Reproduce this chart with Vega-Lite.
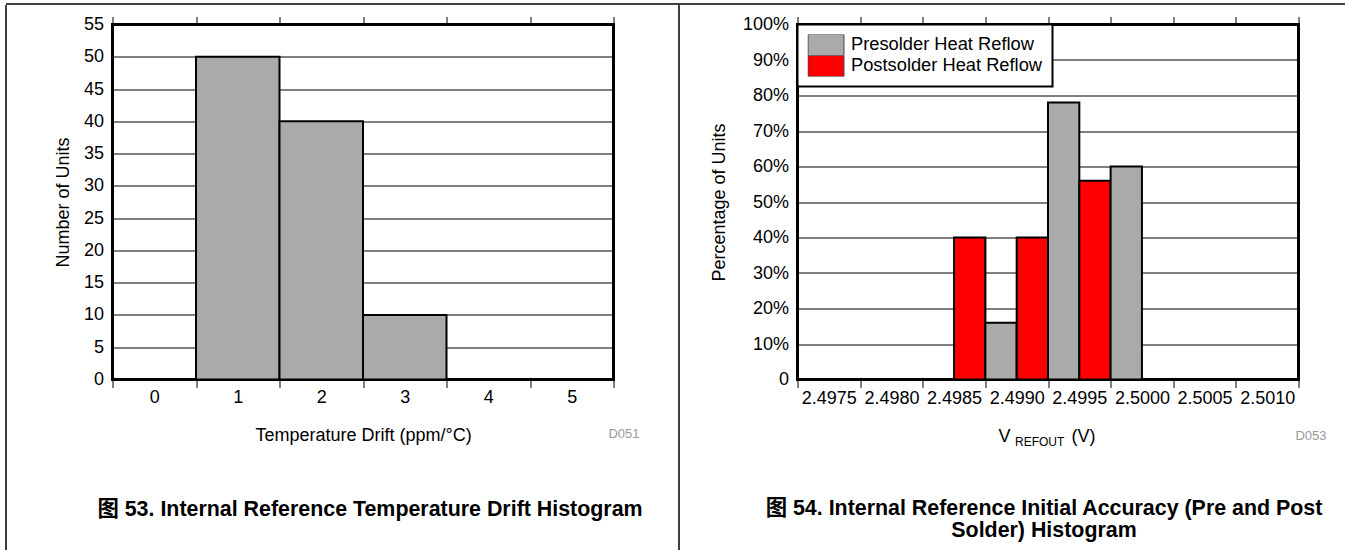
{
  "$schema": "https://vega.github.io/schema/vega-lite/v6.json",
  "padding": {"left": 4.5, "top": 2.5, "right": 0, "bottom": 0},
  "background": "white",
  "config": {
    "font": "Liberation Sans",
    "view": {"stroke": "#000", "strokeWidth": 3},
    "axis": {
      "labelFont": "Liberation Sans", "labelFontSize": 18, "labelColor": "#000",
      "titleFont": "Liberation Sans", "titleFontSize": 18, "titleFontWeight": "normal", "titleColor": "#000",
      "domain": false, "tickColor": "#000", "tickWidth": 1, "gridColor": "#000", "gridWidth": 1, "gridOpacity": 1,
      "labelOverlap": false, "labelFlush": false
    },
    "legend": {"strokeWidth": 2},
    "title": {"font": "Liberation Sans, Noto Sans CJK SC", "fontSize": 21.4, "fontWeight": "bold", "color": "#000"}
  },
  "datasets": {
    "drift": [
      {"drift": 1, "units": 50},
      {"drift": 2, "units": 40},
      {"drift": 3, "units": 10}
    ],
    "accuracy": [
      {"vrefout": "2.4985", "solder": "Postsolder Heat Reflow", "pct": 40},
      {"vrefout": "2.4990", "solder": "Presolder Heat Reflow", "pct": 16},
      {"vrefout": "2.4990", "solder": "Postsolder Heat Reflow", "pct": 40},
      {"vrefout": "2.4995", "solder": "Presolder Heat Reflow", "pct": 78},
      {"vrefout": "2.4995", "solder": "Postsolder Heat Reflow", "pct": 56},
      {"vrefout": "2.5000", "solder": "Presolder Heat Reflow", "pct": 60}
    ]
  },
  "spacing": 0,
  "bounds": "flush",
  "resolve": {"legend": {"color": "independent"}},
  "vconcat": [
    {"width": 1339, "height": 0.001, "view": {"stroke": "#000", "strokeWidth": 1}, "data": {"values": []}, "mark": "rule", "encoding": {}},
    {
      "columns": 7,
      "spacing": 0,
      "bounds": "flush",
      "align": "each",
      "resolve": {"legend": {"color": "independent"}},
      "concat": [
        {"width": 0.001, "height": 20, "view": {"stroke": "#000", "strokeWidth": 1}, "data": {"values": []}, "mark": "rule", "encoding": {}},
        {"width": 106, "height": 20, "view": {"stroke": null}, "data": {"values": []}, "mark": "rule", "encoding": {}},
        {"width": 501, "height": 20, "view": {"stroke": null}, "data": {"values": []}, "mark": "rule", "encoding": {}},
        {"width": 65, "height": 20, "view": {"stroke": null}, "data": {"values": []}, "mark": "rule", "encoding": {}},
        {"width": 0.001, "height": 20, "view": {"stroke": "#000", "strokeWidth": 1}, "data": {"values": []}, "mark": "rule", "encoding": {}},
        {"width": 118, "height": 20, "view": {"stroke": null}, "data": {"values": []}, "mark": "rule", "encoding": {}},
        {"width": 501, "height": 20, "view": {"stroke": null}, "data": {"values": []}, "mark": "rule", "encoding": {}},

        {"width": 0.001, "height": 525, "view": {"stroke": "#000", "strokeWidth": 1}, "data": {"values": []}, "mark": "rule", "encoding": {}},
        {"width": 106, "height": 20, "view": {"stroke": null}, "data": {"values": []}, "mark": "rule", "encoding": {}},
        {
          "width": 501,
          "height": 355,
          "data": {"name": "drift"},
          "title": {"text": "图 53. Internal Reference Temperature Drift Histogram", "orient": "bottom", "anchor": "middle", "frame": "group", "offset": 54, "dx": 7},
          "layer": [
            {
              "mark": {"type": "bar", "fill": "#aaaaaa", "stroke": "#000", "strokeWidth": 2},
              "encoding": {
                "x": {"field": "drift", "type": "ordinal",
                  "scale": {"domain": [0, 1, 2, 3, 4, 5], "paddingInner": 0, "paddingOuter": 0},
                  "axis": {"orient": "bottom", "title": "Temperature Drift (ppm/°C)", "labelAngle": 0, "tickBand": "extent", "tickSize": 8, "labelPadding": 1, "titlePadding": 20, "grid": false}},
                "y": {"field": "units", "type": "quantitative",
                  "scale": {"domain": [0, 55], "nice": false},
                  "axis": {"values": [0, 5, 10, 15, 20, 25, 30, 35, 40, 45, 50, 55], "title": "Number of Units", "ticks": false, "tickSize": 0, "labelPadding": 9, "titlePadding": 11, "grid": true}}
              }
            },
            {
              "mark": {"type": "rule", "opacity": 0},
              "encoding": {
                "x": {"field": "drift", "type": "ordinal", "axis": {"orient": "top", "labels": false, "title": null, "tickBand": "extent", "tickSize": 8, "grid": false}}
              }
            },
            {
              "data": {"values": [{"label": "D051"}]},
              "mark": {"type": "text", "align": "right", "baseline": "middle", "fontSize": 13, "fontWeight": "normal", "fill": "#999999", "dx": 26, "dy": 54},
              "encoding": {
                "text": {"field": "label"},
                "x": {"datum": 5, "type": "ordinal", "bandPosition": 1, "axis": null},
                "y": {"value": "height"}
              }
            }
          ],
          "resolve": {"axis": {"x": "independent"}}
        },
        {"width": 65, "height": 20, "view": {"stroke": null}, "data": {"values": []}, "mark": "rule", "encoding": {}},
        {"width": 0.001, "height": 525, "view": {"stroke": "#000", "strokeWidth": 1}, "data": {"values": []}, "mark": "rule", "encoding": {}},
        {"width": 118, "height": 20, "view": {"stroke": null}, "data": {"values": []}, "mark": "rule", "encoding": {}},
        {
          "width": 501,
          "height": 355,
          "data": {"name": "accuracy"},
          "title": {"text": ["图 54. Internal Reference Initial Accuracy (Pre and Post", "Solder) Histogram"], "orient": "bottom", "anchor": "middle", "frame": "group", "offset": 50, "dx": -4, "lineHeight": 22},
          "layer": [
            {
              "mark": {"type": "bar", "stroke": "#000", "strokeWidth": 2, "opacity": 1},
              "encoding": {
                "x": {"field": "vrefout", "type": "ordinal",
                  "scale": {"domain": ["2.4975", "2.4980", "2.4985", "2.4990", "2.4995", "2.5000", "2.5005", "2.5010"], "paddingInner": 0, "paddingOuter": 0},
                  "axis": {"orient": "bottom", "title": null, "labelAngle": 0, "tickBand": "extent", "tickSize": 8, "labelPadding": 2, "grid": false}},
                "xOffset": {"field": "solder", "type": "nominal",
                  "scale": {"domain": ["Presolder Heat Reflow", "Postsolder Heat Reflow"], "paddingInner": 0, "paddingOuter": 0}},
                "y": {"field": "pct", "type": "quantitative",
                  "scale": {"domain": [0, 100], "nice": false},
                  "axis": {"values": [0, 10, 20, 30, 40, 50, 60, 70, 80, 90, 100], "labelExpr": "datum.value == 0 ? '0' : datum.value + '%'", "title": "Percentage of Units", "ticks": false, "tickSize": 0, "labelPadding": 9, "titlePadding": 14, "grid": true}},
                "color": {"field": "solder", "type": "nominal",
                  "scale": {"domain": ["Presolder Heat Reflow", "Postsolder Heat Reflow"], "range": ["#aaaaaa", "#ff0000"]},
                  "legend": {"title": null, "orient": "top-left", "offset": 0, "padding": 10, "fillColor": "#ffffff", "strokeColor": "#000000",
                    "symbolType": "M-1.714,-1H1.714V1H-1.714Z", "symbolSize": 441, "symbolStrokeColor": "#444444", "symbolStrokeWidth": 1, "symbolOpacity": 1,
                    "symbolOffset": 7.5, "labelOffset": 14, "labelFontSize": 18.3, "labelFont": "Liberation Sans", "labelColor": "#000000", "rowPadding": 0, "clipHeight": 21, "labelLimit": 400}}
              }
            },
            {
              "mark": {"type": "rule", "opacity": 0},
              "encoding": {
                "x": {"field": "vrefout", "type": "ordinal", "axis": {"orient": "top", "labels": false, "title": null, "tickBand": "extent", "tickSize": 8, "grid": false}}
              }
            },
            {
              "data": {"values": [{"label": "D053"}]},
              "mark": {"type": "text", "align": "right", "baseline": "middle", "fontSize": 13, "fontWeight": "normal", "fill": "#999999", "dx": 28, "dy": 56},
              "encoding": {
                "text": {"field": "label"},
                "x": {"datum": "2.5010", "type": "ordinal", "bandPosition": 1, "axis": null},
                "y": {"value": "height"}
              }
            },
            {
              "data": {"values": [{"label": "V"}]},
              "mark": {"type": "text", "align": "left", "baseline": "alphabetic", "fontSize": 18, "fontWeight": "normal", "fill": "#000", "dx": -49.5, "dy": 62.5},
              "encoding": {
                "text": {"field": "label"},
                "x": {"datum": "2.4995", "type": "ordinal", "bandPosition": 0, "axis": null},
                "y": {"value": "height"}
              }
            },
            {
              "data": {"values": [{"label": "REFOUT"}]},
              "mark": {"type": "text", "align": "left", "baseline": "alphabetic", "fontSize": 12, "fontWeight": "normal", "fill": "#000", "dx": -33, "dy": 66},
              "encoding": {
                "text": {"field": "label"},
                "x": {"datum": "2.4995", "type": "ordinal", "bandPosition": 0, "axis": null},
                "y": {"value": "height"}
              }
            },
            {
              "data": {"values": [{"label": "(V)"}]},
              "mark": {"type": "text", "align": "left", "baseline": "alphabetic", "fontSize": 18, "fontWeight": "normal", "fill": "#000", "dx": 23.5, "dy": 62.5},
              "encoding": {
                "text": {"field": "label"},
                "x": {"datum": "2.4995", "type": "ordinal", "bandPosition": 0, "axis": null},
                "y": {"value": "height"}
              }
            }
          ],
          "resolve": {"axis": {"x": "independent"}}
        }
      ]
    }
  ]
}
